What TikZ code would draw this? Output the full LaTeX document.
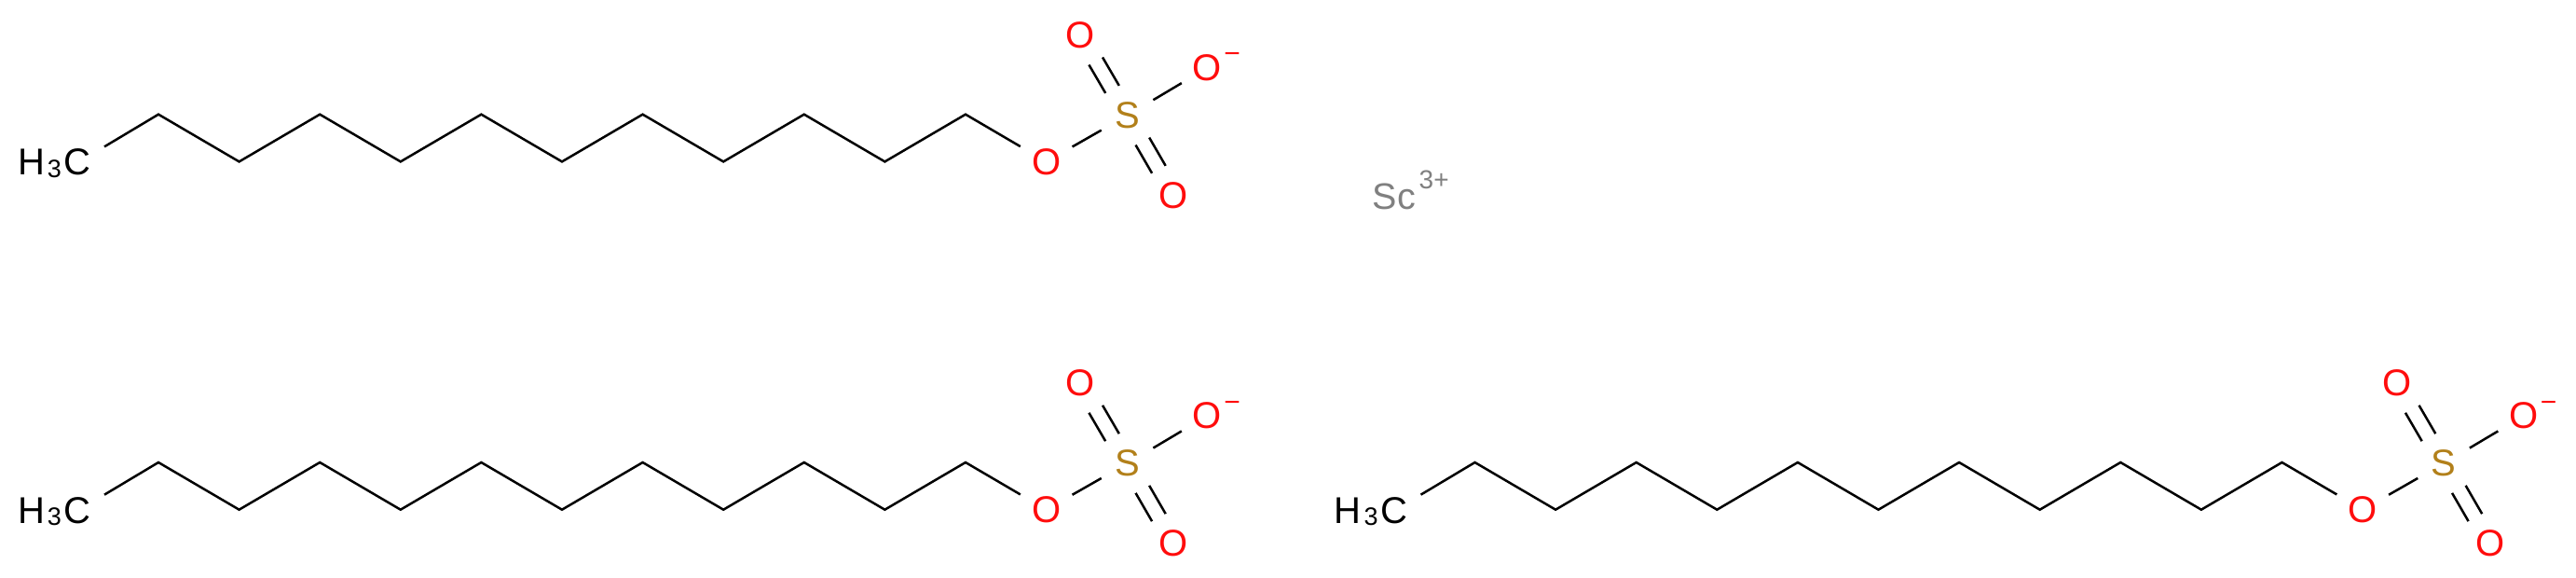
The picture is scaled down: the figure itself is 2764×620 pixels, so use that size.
\documentclass[tikz,border=0pt]{standalone}
\usepackage{fontspec}
\setmainfont{Liberation Sans}
\usetikzlibrary{calc}
\definecolor{oxy}{HTML}{FF0D0D}
\definecolor{sul}{HTML}{B2801A}
\definecolor{scan}{HTML}{808080}
\tikzset{
  x=1pt,y=-1pt,
  atom/.style={circle,minimum size=64pt,inner sep=0pt,font=\fontsize{40pt}{40pt}\selectfont},
  oatom/.style={atom,text=oxy},
  satom/.style={atom,text=sul},
  bond/.style={draw=black,line width=2.5pt},
  dblA/.style={bond,transform canvas={shift={(7.3pt,4pt)}}},
  dblB/.style={bond,transform canvas={shift={(-7.3pt,-4pt)}}},
  charge/.style={inner sep=0pt,anchor=base,text=oxy,font=\fontsize{30pt}{30pt}\selectfont},
  methyl/.style={anchor=base east,inner xsep=14.4pt,inner ysep=2.2pt,font=\fontsize{40pt}{40pt}\selectfont},
}
\newcommand{\sulfatechain}[3]{%
  % #1 name prefix, #2 x offset, #3 y of the upper chain vertices
  \pgfmathsetmacro{\lowy}{#3+50.7}
  \foreach \k in {0,...,10}{
    \pgfmathsetmacro{\vx}{#2+170+86.6*\k}
    \pgfmathsetmacro{\vy}{mod(\k,2)==0 ? #3 : \lowy}
    \coordinate (#1v\k) at (\vx,\vy);
  }
  \node[methyl] (#1m) at (#2+112,#3+65) {H\kern2.8pt\raisebox{-2.5pt}{\fontsize{27pt}{27pt}\selectfont 3}\kern2.5pt C};
  \node[oatom] (#1o) at (#2+1122.6,\lowy) {O};
  \node[satom] (#1s) at (#2+1209.7,#3+1) {S};
  \node[oatom] (#1ot) at (#2+1159.5,#3-85) {O};
  \node[oatom] (#1om) at (#2+1295.5,#3-50) {O};
  \node[oatom] (#1ob) at (#2+1259.5,#3+87) {O};
  \node[charge] (#1c) at (#2+1322,#3-55) {−};
  \draw[bond,line join=miter] (#1m.north east) -- (#1v0) -- (#1v1) -- (#1v2) -- (#1v3) -- (#1v4) -- (#1v5) -- (#1v6) -- (#1v7) -- (#1v8) -- (#1v9) -- (#1v10) -- (#1o);
  \draw[bond] (#1o) -- (#1s);
  \draw[bond] (#1s) -- (#1om);
  \draw[dblA] (#1s) -- (#1ot);
  \draw[dblB] (#1s) -- (#1ot);
  \draw[dblA] (#1s) -- (#1ob);
  \draw[dblB] (#1s) -- (#1ob);
}
\begin{document}
\begin{tikzpicture}
  \useasboundingbox (0,0) rectangle (2764,620);
  \fill[white] (0,0) rectangle (2764,620);
  \sulfatechain{a}{0}{122.7}
  \sulfatechain{b}{0}{496}
  \sulfatechain{c}{1412.5}{496}
  \node[anchor=base west,inner sep=0pt,text=scan,font=\fontsize{39.5pt}{39.5pt}\selectfont] (sc) at (1472.5,225) {Sc};
  \node[anchor=base west,inner sep=0pt,text=scan,font=\fontsize{28pt}{28pt}\selectfont] (scc) at (1522.5,203) {3+};
\end{tikzpicture}
\end{document}
